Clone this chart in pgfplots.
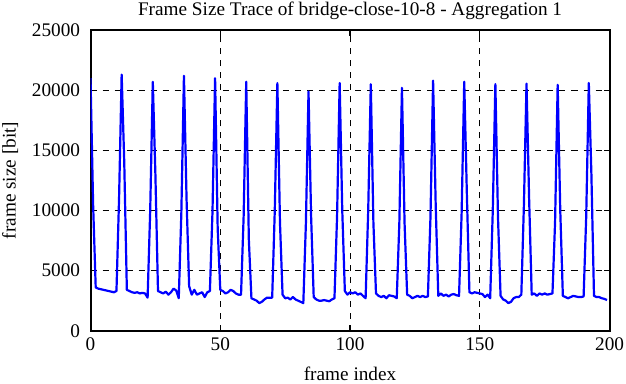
\documentclass[border=0pt]{standalone}
\usepackage{pgfplots}
\pgfplotsset{compat=1.18}
\usepackage{fontspec}
\setmainfont{Liberation Serif}
\begin{document}
\fontsize{9.6}{11}\selectfont
\begin{tikzpicture}
\begin{axis}[
  scale only axis,
  width=259pt, height=150pt,
  xmin=0, xmax=200, ymin=0, ymax=25000,
  xtick={0,50,100,150,200},
  ytick={0,5000,10000,15000,20000,25000},
  scaled ticks=false,
  /pgf/number format/assume math mode=true,
  yticklabel style={/pgf/number format/.cd, fixed, set thousands separator={}, /tikz/.cd, inner sep=1pt, xshift=-4pt},
  xticklabel style={/pgf/number format/.cd, fixed, set thousands separator={}, /tikz/.cd, inner sep=1pt, yshift=-2.5pt},
  tick align=inside,
  major tick length=3pt,
  tick style={black, line width=0.6pt},
  axis line style={black, line width=1pt},
  grid=major,
  major grid style={black, dashed, line width=0.5pt},
  every axis title shift=0pt,
  title={Frame Size Trace of bridge-close-10-8 - Aggregation 1},
  title style={at={(axis description cs:0.5,1)}, anchor=south, inner sep=1pt, yshift=4pt},
  xlabel={frame index},
  ylabel={frame size [bit]},
  xlabel style={at={(axis description cs:0.5,-0.145)}, anchor=center, inner sep=1pt},
  ylabel style={at={(axis description cs:-0.155,0.5)}, anchor=center, inner sep=1pt},
  font=\fontsize{9.6}{11}\selectfont,
]
\addplot[color={rgb,255:red,0;green,0;blue,255}, line width=1.1pt, line join=round] coordinates {
(0,21000)(1,10500)(2,3600)(3,3500)(4,3450)(5,3400)(6,3350)(7,3300)(8,3250)(9,3200)(10,3300)
(11,11000)(12,21300)(13,14000)(14,3400)(15,3300)(16,3200)(17,3150)(18,3200)(19,3100)(20,3150)(21,3100)(22,2750)
(23,10000)(24,20700)(25,13000)(26,3300)(27,3200)(28,3100)(29,3250)(30,3000)(31,3200)(32,3500)(33,3350)(34,2700)
(35,9800)(36,21200)(37,11000)(38,3700)(39,3000)(40,3400)(41,3000)(42,3100)(43,3200)(44,2800)(45,3200)(46,3300)
(47,9900)(48,21000)(49,8500)(50,3400)(51,3300)(52,3100)(53,3200)(54,3400)(55,3300)(56,3100)(57,3000)(58,3000)
(59,9500)(60,20700)(61,7600)(62,2700)(63,2600)(64,2500)(65,2300)(66,2400)(67,2600)(68,2750)(69,2750)(70,2750)
(71,10000)(72,20600)(73,9000)(74,3000)(75,2700)(76,2750)(77,2600)(78,2800)(79,2600)(80,2500)(81,2400)(82,2300)
(83,9000)(84,19900)(85,9500)(86,2800)(87,2600)(88,2500)(89,2500)(90,2550)(91,2500)(92,2450)(93,2600)(94,2700)
(95,9500)(96,20600)(97,10000)(98,3300)(99,3000)(100,3200)(101,3100)(102,3200)(103,3000)(104,3100)(105,2900)(106,2700)
(107,10000)(108,20500)(109,9000)(110,3100)(111,2900)(112,2800)(113,2900)(114,2700)(115,2950)(116,2900)(117,2850)(118,2700)
(119,9000)(120,20200)(121,9000)(122,3000)(123,2900)(124,2700)(125,2800)(126,2900)(127,2800)(128,2900)(129,2800)(130,2850)
(131,9500)(132,20800)(133,10500)(134,2900)(135,3100)(136,2900)(137,3000)(138,2850)(139,3000)(140,3050)(141,2950)(142,2900)
(143,9800)(144,20700)(145,11500)(146,3200)(147,3100)(148,3200)(149,3150)(150,3100)(151,3050)(152,2800)(153,3000)(154,2700)
(155,10000)(156,20500)(157,9500)(158,2900)(159,2600)(160,2500)(161,2300)(162,2400)(163,2700)(164,2800)(165,2800)(166,3000)
(167,10500)(168,20550)(169,11000)(170,3000)(171,3100)(172,2900)(173,3100)(174,3000)(175,3100)(176,3000)(177,3050)(178,3100)
(179,9000)(180,20450)(181,10000)(182,2900)(183,2800)(184,2700)(185,2800)(186,2900)(187,2850)(188,2800)(189,2800)(190,2850)
(191,9500)(192,20600)(193,13000)(194,2900)(195,2800)(196,2800)(197,2700)(198,2650)(199,2550)
};
\end{axis}
\end{tikzpicture}
\end{document}
